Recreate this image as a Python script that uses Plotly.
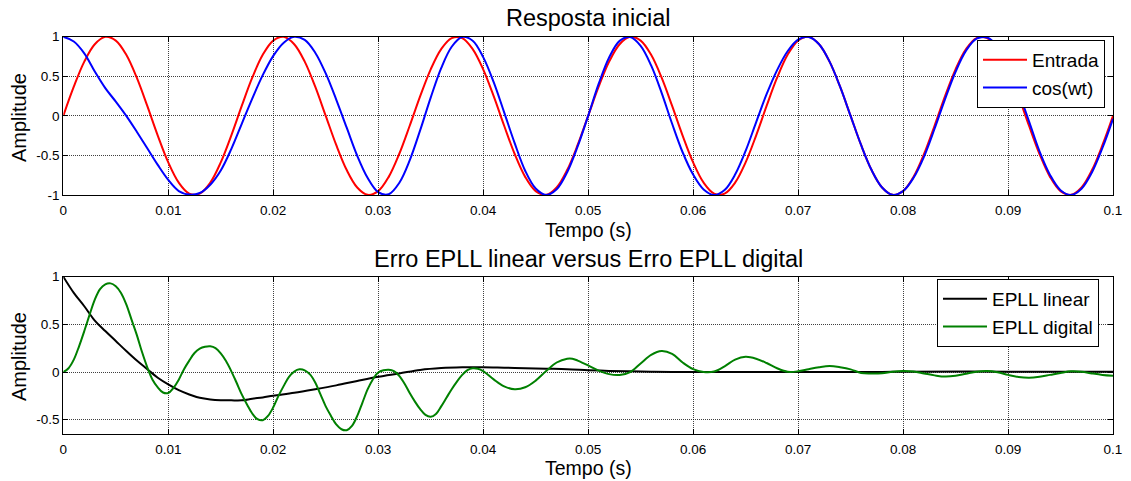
import plotly.graph_objects as go

# ---------------- data (time in ms) ----------------
t_top_ms = list(range(0, 101))

entrada = [0.000, 0.368, 0.685, 0.905, 0.998, 0.951, 0.771, 0.482, 0.125, -0.249,
           -0.588, -0.844, -0.982, -0.982, -0.844, -0.588, -0.249, 0.125, 0.482, 0.771,
           0.951, 0.998, 0.905, 0.685, 0.368, 0.000, -0.368, -0.685, -0.905, -0.998,
           -0.951, -0.771, -0.482, -0.125, 0.249, 0.588, 0.844, 0.982, 0.982, 0.844,
           0.588, 0.249, -0.125, -0.482, -0.771, -0.951, -0.998, -0.905, -0.685, -0.368,
           0.000, 0.368, 0.685, 0.905, 0.998, 0.951, 0.771, 0.482, 0.125, -0.249,
           -0.588, -0.844, -0.982, -0.982, -0.844, -0.588, -0.249, 0.125, 0.482, 0.771,
           0.951, 0.998, 0.905, 0.685, 0.368, 0.000, -0.368, -0.685, -0.905, -0.998,
           -0.951, -0.771, -0.482, -0.125, 0.249, 0.588, 0.844, 0.982, 0.982, 0.844,
           0.588, 0.249, -0.125, -0.482, -0.771, -0.951, -0.998, -0.905, -0.685, -0.368,
           0.000]

cos_wt = [1.000, 0.940, 0.790, 0.560, 0.350, 0.180, 0.000, -0.200, -0.410, -0.620,
          -0.810, -0.950, -0.995, -0.975, -0.870, -0.690, -0.420, -0.100, 0.218, 0.514,
          0.758, 0.925, 0.999, 0.959, 0.798, 0.536, 0.206, -0.150, -0.504, -0.786,
          -0.964, -0.990, -0.848, -0.562, -0.181, 0.230, 0.603, 0.873, 0.996, 0.949,
          0.742, 0.426, 0.044, -0.345, -0.693, -0.918, -1.000, -0.928, -0.712, -0.386,
          0.000, 0.403, 0.738, 0.947, 0.996, 0.885, 0.637, 0.291, -0.100, -0.460,
          -0.742, -0.930, -1.000, -0.937, -0.742, -0.443, -0.082, 0.273, 0.578, 0.816,
          0.962, 0.997, 0.905, 0.685, 0.368, 0.000, -0.368, -0.685, -0.905, -0.998,
          -0.951, -0.782, -0.514, -0.163, 0.212, 0.557, 0.824, 0.975, 0.989, 0.873,
          0.633, 0.303, -0.069, -0.448, -0.746, -0.939, -1.000, -0.920, -0.712, -0.403,
          -0.038]

t_lin_ms = [0, 1, 2, 3, 4, 5, 6, 7, 8, 9, 10, 11, 12, 13, 14, 15, 16, 17, 18, 19,
            20, 22, 24, 26, 28, 30, 32, 34, 36, 38, 40, 42, 44, 46, 48, 50, 52, 54,
            56, 58, 60, 65, 70, 78, 80, 90, 100]
epll_linear = [1.0, 0.83, 0.69, 0.54, 0.43, 0.325, 0.22, 0.12, 0.03, -0.06,
               -0.13, -0.19, -0.235, -0.27, -0.287, -0.295, -0.297, -0.297, -0.28, -0.266,
               -0.248, -0.217, -0.18, -0.14, -0.094, -0.05, -0.015, 0.022, 0.042, 0.05,
               0.05, 0.045, 0.04, 0.035, 0.03, 0.02, 0.012, 0.007, 0.003, 0.0,
               0.0, 0.0, 0.0, 0.0, 0.004, 0.004, 0.004]

t_dig_ms = [0, 0.5, 1, 1.5, 2, 2.5, 3, 3.5, 4, 4.5, 5, 5.5, 6, 6.5, 7, 7.5, 8, 8.5, 9, 9.5,
            10, 10.5, 11, 11.5, 12, 12.5, 13, 13.5, 14, 14.5, 15, 15.5, 16, 16.5, 17, 17.5,
            18, 18.5, 19, 19.5, 20, 20.5, 21, 21.5, 22, 22.5, 23, 23.5, 24, 24.5, 25, 25.5,
            26, 26.5, 27, 27.5, 28, 28.5, 29, 29.5, 30, 30.5, 31, 31.5, 32, 32.5, 33, 33.5,
            34, 34.5, 35, 35.5, 36, 36.5, 37, 37.5, 38, 38.5, 39, 39.5, 40, 41, 42, 43, 44,
            45, 46, 47, 48, 48.5, 49, 50, 51, 52, 53, 54, 55, 56, 57, 58, 59, 60, 61, 62, 63,
            64, 65, 66, 67, 68, 69, 70, 71, 72, 73, 74, 75, 76, 77, 78, 79, 80, 81, 82, 83,
            84, 85, 86, 87, 88, 89, 90, 91, 92, 93, 94, 95, 96, 97, 98, 99, 100]
epll_digital = [0.0, 0.04, 0.13, 0.27, 0.43, 0.6, 0.76, 0.87, 0.92, 0.93, 0.9, 0.83, 0.71, 0.55,
                0.39, 0.21, 0.05, -0.08, -0.16, -0.215, -0.22, -0.165, -0.08, 0.03, 0.12, 0.2,
                0.245, 0.265, 0.27, 0.25, 0.195, 0.115, 0.01, -0.11, -0.235, -0.34, -0.435,
                -0.495, -0.505, -0.46, -0.37, -0.25, -0.145, -0.05, 0.005, 0.028, 0.018,
                -0.025, -0.11, -0.235, -0.36, -0.46, -0.55, -0.6, -0.61, -0.565, -0.46, -0.32,
                -0.18, -0.075, -0.005, 0.018, 0.024, 0.01, -0.04, -0.12, -0.22, -0.31, -0.39,
                -0.45, -0.47, -0.44, -0.36, -0.27, -0.18, -0.1, -0.03, 0.02, 0.04, 0.035,
                0.01, -0.077, -0.15, -0.18, -0.16, -0.09, 0.01, 0.1, 0.14, 0.14, 0.12, 0.07,
                0.015, -0.022, -0.03, 0.0, 0.09, 0.18, 0.22, 0.19, 0.1, 0.03, 0.0, 0.005,
                0.06, 0.13, 0.16, 0.14, 0.095, 0.04, 0.003, 0.008, 0.03, 0.05, 0.062, 0.05,
                0.028, -0.01, -0.015, -0.012, 0.003, 0.01, 0.005, -0.015, -0.035, -0.048,
                -0.04, -0.018, 0.003, 0.01, -0.003, -0.03, -0.052, -0.06, -0.05, -0.03,
                -0.01, 0.007, 0.003, -0.015, -0.03, -0.038]

x_tickvals = [0, 0.01, 0.02, 0.03, 0.04, 0.05, 0.06, 0.07, 0.08, 0.09, 0.1]
x_ticktext = ["0", "0.01", "0.02", "0.03", "0.04", "0.05", "0.06", "0.07", "0.08", "0.09", "0.1"]
y1_tickvals = [-1, -0.5, 0, 0.5, 1]
y1_ticktext = ["-1", "-0.5", "0", "0.5", "1"]
y2_tickvals = [-0.5, 0, 0.5, 1]
y2_ticktext = ["-0.5", "0", "0.5", "1"]

# ---------------- figure ----------------
W, H = 1131, 481
FONT = "Liberation Sans, Arial, Helvetica, sans-serif"

def sec(lst):
    return [v / 1000.0 for v in lst]

fig = go.Figure()
fig.add_trace(go.Scatter(x=sec(t_top_ms), y=entrada, name="Entrada", mode="lines",
                         line=dict(color="#ff0000", width=2, shape="spline"),
                         xaxis="x", yaxis="y", legend="legend"))
fig.add_trace(go.Scatter(x=sec(t_top_ms), y=cos_wt, name="cos(wt)", mode="lines",
                         line=dict(color="#0000ff", width=2, shape="spline"),
                         xaxis="x", yaxis="y", legend="legend"))
fig.add_trace(go.Scatter(x=sec(t_lin_ms), y=epll_linear, name="EPLL linear", mode="lines",
                         line=dict(color="#000000", width=2, shape="spline"),
                         xaxis="x2", yaxis="y2", legend="legend2"))
fig.add_trace(go.Scatter(x=sec(t_dig_ms), y=epll_digital, name="EPLL digital", mode="lines",
                         line=dict(color="#008000", width=2, shape="spline"),
                         xaxis="x2", yaxis="y2", legend="legend2"))

x0, x1 = 63.3 / W, 1113 / W
top_dom = [1 - 195 / H, 1 - 36.7 / H]
bot_dom = [1 - 434 / H, 1 - 276.7 / H]

axis_common = dict(showline=True, linecolor="black", linewidth=1, mirror="ticks",
                   ticks="inside", ticklen=5, tickcolor="black", zeroline=False,
                   automargin=False,
                   showgrid=True, gridcolor="rgba(0,0,0,0.75)", griddash="1px,1px", gridwidth=1,
                   tickfont=dict(family=FONT, size=13.5, color="black"))

fig.update_layout(
    width=W, height=H,
    margin=dict(l=0, r=0, t=0, b=0, autoexpand=False),
    paper_bgcolor="white", plot_bgcolor="white",
    font=dict(family=FONT, color="black"),
    xaxis=dict(domain=[x0, x1], range=[0, 0.1], anchor="y", ticklabelstandoff=3,
               tickvals=x_tickvals, ticktext=x_ticktext, **axis_common),
    yaxis=dict(domain=top_dom, range=[-1, 1], anchor="x",
               tickvals=y1_tickvals, ticktext=y1_ticktext, **axis_common),
    xaxis2=dict(domain=[x0, x1], range=[0, 0.1], anchor="y2", ticklabelstandoff=3,
                tickvals=x_tickvals, ticktext=x_ticktext, **axis_common),
    yaxis2=dict(domain=bot_dom, range=[-0.65, 1], anchor="x2",
                tickvals=y2_tickvals, ticktext=y2_ticktext, **axis_common),
    legend=dict(x=977 / W, y=1 - 40 / H, xanchor="left", yanchor="top",
                bgcolor="white", bordercolor="black", borderwidth=1, itemwidth=44,
                font=dict(family=FONT, size=19, color="black"), tracegroupgap=0),
    legend2=dict(x=937 / W, y=1 - 279 / H, xanchor="left", yanchor="top",
                 bgcolor="white", bordercolor="black", borderwidth=1, itemwidth=44,
                 font=dict(family=FONT, size=19, color="black"), tracegroupgap=0),
    showlegend=True,
)

ann = [
    dict(text="Resposta inicial", x=(x0 + x1) / 2, y=1 - 18 / H, size=23.5),
    dict(text="Erro EPLL linear versus Erro EPLL digital", x=(x0 + x1) / 2, y=1 - 259 / H, size=23.5),
    dict(text="Tempo (s)", x=(x0 + x1) / 2, y=1 - 230 / H, size=19.5),
    dict(text="Tempo (s)", x=(x0 + x1) / 2, y=1 - 468 / H, size=19.5),
]
for a in ann:
    fig.add_annotation(text=a["text"], x=a["x"], y=a["y"], xref="paper", yref="paper",
                       showarrow=False, xanchor="center", yanchor="middle",
                       font=dict(family=FONT, size=a["size"], color="black"))
for yc in [1 - 118 / H, 1 - 357 / H]:
    fig.add_annotation(text="Amplitude", x=19 / W, y=yc, xref="paper", yref="paper",
                       showarrow=False, textangle=-90, xanchor="center", yanchor="middle",
                       font=dict(family=FONT, size=20, color="black"))

fig.write_html("out.html", config={"displayModeBar": False},
               post_script="document.body.style.margin='0';document.body.style.overflow='hidden';")
